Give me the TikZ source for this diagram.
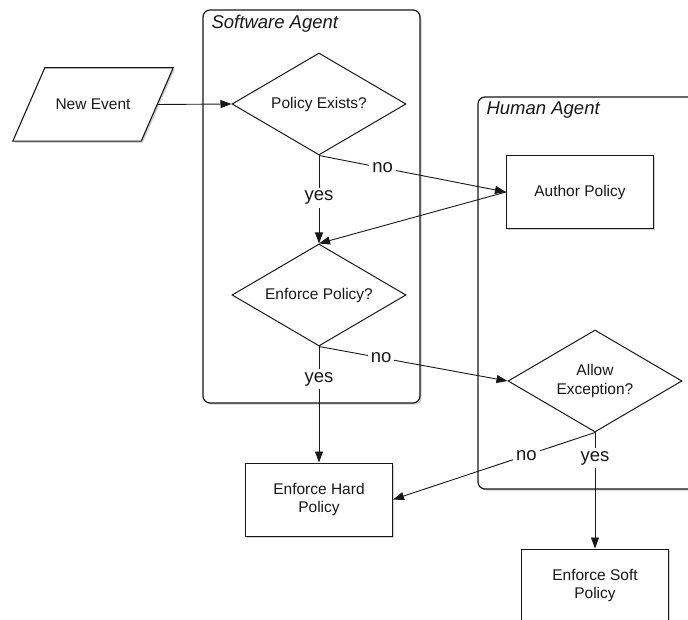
\documentclass[tikz,border=0pt]{standalone}
\usepackage{fontspec}
\setmainfont{Liberation Sans}
\usetikzlibrary{arrows.meta,positioning,shapes.geometric,shadows,backgrounds}
\definecolor{ink}{RGB}{24,24,24}
\definecolor{shade}{RGB}{150,150,150}
\tikzset{
  boxshadow/.style={drop shadow={shadow xshift=1.6pt,shadow yshift=-1.6pt,fill=shade,opacity=.45}},
  lane/.style={draw=ink,line width=1.2pt,rounded corners=7pt,fill=white,boxshadow},
  lanetitle/.style={font=\fontsize{18.5}{22}\selectfont\itshape,text=ink,inner sep=0pt,anchor=north west},
  task/.style={draw=ink,line width=1.1pt,fill=white,boxshadow,
    minimum width=147pt,minimum height=73pt,align=center,
    font=\fontsize{15.5}{18.5}\selectfont,text=ink},
  decision/.style={diamond,aspect=1.7,draw=ink,line width=1pt,fill=white,inner sep=0pt,
    minimum width=174pt,minimum height=102pt,align=center,
    font=\fontsize{15.5}{18.5}\selectfont,text=ink},
  inbox/.style={minimum width=128pt,minimum height=73pt,inner sep=0pt,
    font=\fontsize{15.5}{18.5}\selectfont,text=ink},
  inline/.style={draw=ink,line width=1.1pt,fill=white,boxshadow},
  flow/.style={draw=ink,line width=0.9pt,-{Triangle[length=11pt,width=8pt]}},
  answer/.style={fill=white,inner sep=3pt,font=\fontsize{18.5}{22}\selectfont,text=ink}
}

\begin{document}
\begin{tikzpicture}[x=1pt,y=1pt]
  \useasboundingbox (0,0) rectangle (688,619);
  \clip (0,0) rectangle (688,619);

  \node[lane,minimum width=217pt,minimum height=393pt] (swlane) at (311.5,412.5) {};
  \node[lanetitle] at ([shift={(9pt,-5pt)}]swlane.north west) {Software Agent};
  \node[lane,minimum width=227pt,minimum height=392pt] (hulane) at (591.5,326) {};
  \node[lanetitle] at ([shift={(9pt,-5pt)}]hulane.north west) {Human Agent};

  \node[inbox] (ev) at (93,514.5) {New Event};
  \begin{scope}[on background layer]
    \draw[inline] ([xshift=16pt]ev.north west) -- ([xshift=16pt]ev.north east)
      -- ([xshift=-16pt]ev.south east) -- ([xshift=-16pt]ev.south west) -- cycle;
  \end{scope}
  \node[decision] (pe) at (319,515) {Policy Exists?};
  \node[decision,below=88pt of pe] (ep) {Enforce Policy?};
  \node[task,below=116pt of ep] (hard) {Enforce Hard\\Policy};
  \node[task] (ap) at (580,427) {Author Policy};
  \node[decision] (ae) at (595,238) {Allow\\Exception?};
  \node[task,below=116pt of ae] (soft) {Enforce Soft\\Policy};

  \draw[flow] (ev.east) -- (pe.west);
  \draw[flow] (pe.south) -- node[answer,pos=.48] {yes} (ep.north);
  \draw[flow] (pe.south) -- node[answer,pos=.34] {no} (ap.west);
  \draw[flow] (ap.west) -- (ep.north);
  \draw[flow] (ep.south) -- node[answer,pos=.28] {yes} (hard.north);
  \draw[flow] (ep.south) -- node[answer,pos=.33] {no} (ae.west);
  \draw[flow] (ae.south) -- node[answer,pos=.34] {no} (hard.east);
  \draw[flow] (ae.south) -- node[answer,pos=.22] {yes} (soft.north);
\end{tikzpicture}
\end{document}
